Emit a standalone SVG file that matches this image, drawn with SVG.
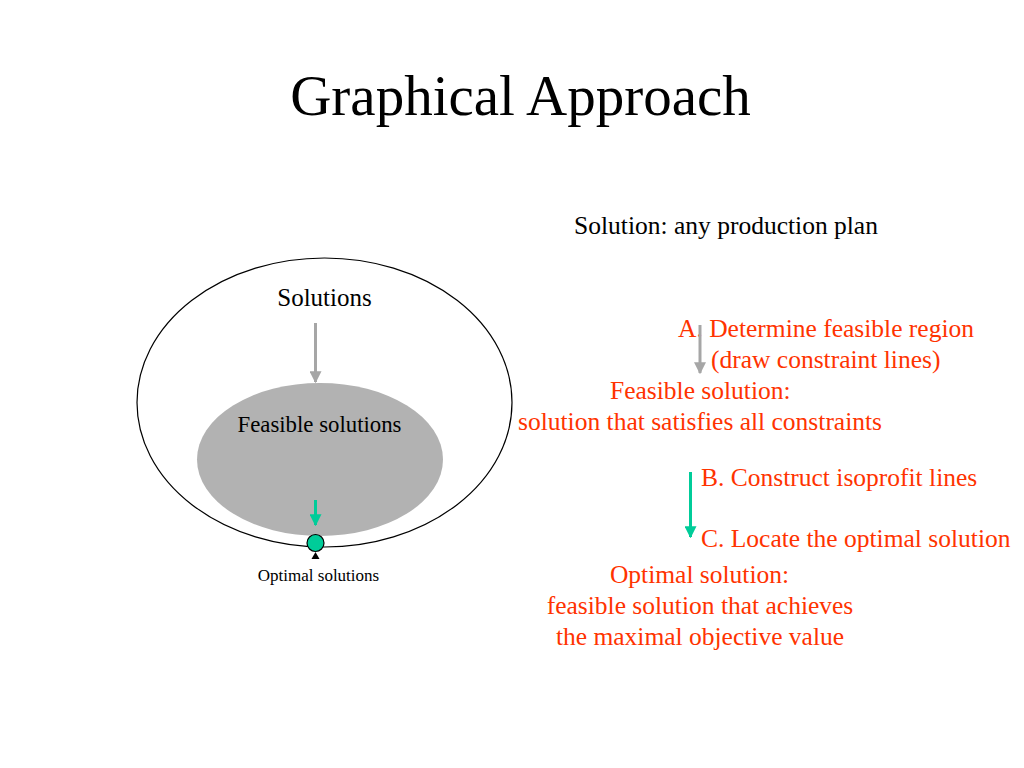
<svg xmlns="http://www.w3.org/2000/svg" width="1024" height="768" viewBox="0 0 1024 768">
<defs>
<style>
text{font-family:"Liberation Serif","Times New Roman",serif}
.red{fill:#FF3300;font-size:25.5px}
.c{text-anchor:middle}
.garr{stroke:#A6A6A6;stroke-width:3;fill:none}
.grn{stroke:#00CC99;stroke-width:3;fill:none}
</style>
<marker id="mg" viewBox="0 0 10 10" refX="9" refY="5" markerWidth="4" markerHeight="4" orient="auto" markerUnits="strokeWidth"><path d="M0,0 L10,5 L0,10 z" fill="#A6A6A6"/></marker>
<marker id="mgr" viewBox="0 0 10 10" refX="9" refY="5" markerWidth="4" markerHeight="4" orient="auto" markerUnits="strokeWidth"><path d="M0,0 L10,5 L0,10 z" fill="#00CC99"/></marker>
</defs>
<rect width="1024" height="768" fill="#fff"/>
<text x="520.5" y="115" class="c" font-size="57">Graphical Approach</text>
<text x="726" y="234" class="c" font-size="25.5">Solution: any production plan</text>

<g id="solutions">
<ellipse cx="324.5" cy="402.5" rx="187.5" ry="144.5" fill="#fff" stroke="#000" stroke-width="1.2"/>
<text x="324.5" y="306" class="c" font-size="25">Solutions</text>
</g>
<g id="feasible">
<ellipse cx="320" cy="459.5" rx="123" ry="76.5" fill="#B2B2B2"/>
<text x="319.5" y="432" class="c" font-size="22.8">Feasible solutions</text>
</g>
<g id="optimal">
<circle cx="315.5" cy="543" r="8.5" fill="#00CC99" stroke="#000" stroke-width="1.2"/>
<path d="M311.5,559 L315.5,552 L319.5,559 z" fill="#000"/>
<text x="318.5" y="581" class="c" font-size="17">Optimal solutions</text>
</g>

<g id="steps">
<text x="678" y="337" class="red">A. Determine feasible region</text>
<text x="711" y="368" class="red">(draw constraint lines)</text>
<text x="610" y="399" class="red">Feasible solution:</text>
<text x="518" y="430" class="red">solution that satisfies all constraints</text>
<text x="701" y="486" class="red">B. Construct isoprofit lines</text>
<text x="701" y="547" class="red">C. Locate the optimal solution</text>
<text x="699.5" y="583" class="red c">Optimal solution:</text>
<text x="700" y="614" class="red c">feasible solution that achieves</text>
<text x="700" y="645" class="red c">the maximal objective value</text>
</g>

<g id="connectors">
<line x1="315.5" y1="323" x2="315.5" y2="382" class="garr" marker-end="url(#mg)"/>
<line x1="315.5" y1="500" x2="315.5" y2="525" class="grn" marker-end="url(#mgr)"/>
<line x1="700" y1="325" x2="700" y2="373" class="garr" marker-end="url(#mg)"/>
<line x1="690.5" y1="472" x2="690.5" y2="537" class="grn" stroke-width="2" marker-end="url(#mgr)"/>
</g>
</svg>
